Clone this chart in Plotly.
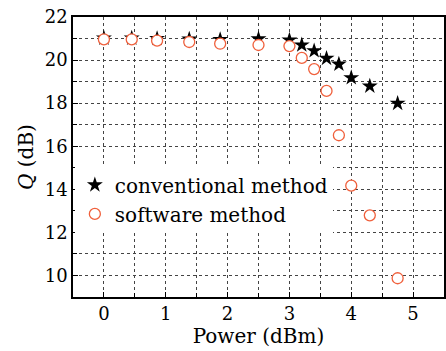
import plotly.graph_objects as go

conv_x = [0, 0.45, 0.86, 1.38, 1.88, 2.5, 3.0, 3.2, 3.4, 3.6, 3.8, 4.0, 4.3, 4.75]
conv_y = [21.02, 21.02, 21.0, 20.97, 20.95, 20.98, 20.93, 20.7, 20.43, 20.08, 19.81, 19.18, 18.79, 17.99]
soft_x = [0, 0.45, 0.86, 1.38, 1.88, 2.5, 3.0, 3.2, 3.4, 3.6, 3.8, 4.0, 4.3, 4.75]
soft_y = [20.96, 20.96, 20.9, 20.84, 20.76, 20.7, 20.65, 20.1, 19.58, 18.57, 16.51, 14.17, 12.79, 9.87]

FONT = "DejaVu Serif"

fig = go.Figure()
fig.add_trace(go.Scatter(x=conv_x, y=conv_y, mode="markers", name="conventional method",
                         marker=dict(symbol="star", size=12, color="black", line=dict(width=0))))
fig.add_trace(go.Scatter(x=soft_x, y=soft_y, mode="markers", name="software method",
                         marker=dict(symbol="circle", size=11, color="white",
                                     line=dict(width=1.3, color="#F0603C"))))

axis_common = dict(showline=True, linecolor="black", linewidth=1.5, mirror=True,
                   ticks="inside", ticklen=5, tickcolor="black",
                   showgrid=True, gridcolor="#444", griddash="dot", gridwidth=1,
                   zeroline=False, tickfont=dict(family=FONT, size=18, color="black"))

fig.update_xaxes(range=[-0.5, 5.5], dtick=1, tick0=0,
                 minor=dict(dtick=0.5, ticks="inside", ticklen=4, tickcolor="black",
                            showgrid=True, gridcolor="#444", griddash="dot", gridwidth=1),
                 title=dict(text="Power (dBm)", font=dict(family=FONT, size=20, color="black"), standoff=2),
                 **axis_common)
fig.update_yaxes(range=[9, 22], dtick=2, tick0=10,
                 minor=dict(dtick=1, ticks="inside", ticklen=4, tickcolor="black",
                            showgrid=True, gridcolor="#444", griddash="dot", gridwidth=1),
                 title=dict(text="<i>Q</i> (dB)", font=dict(family=FONT, size=20, color="black"), standoff=6),
                 **axis_common)

fig.update_layout(width=446, height=351, margin=dict(l=73, r=0, t=17, b=54),
                  plot_bgcolor="white", paper_bgcolor="white",
                  showlegend=True,
                  legend=dict(x=0.005, y=0.47, xanchor="left", yanchor="top",
                              bgcolor="white", borderwidth=0,
                              font=dict(family=FONT, size=20, color="black"),
                              itemwidth=30, tracegroupgap=0))

fig.write_html("out.html")
